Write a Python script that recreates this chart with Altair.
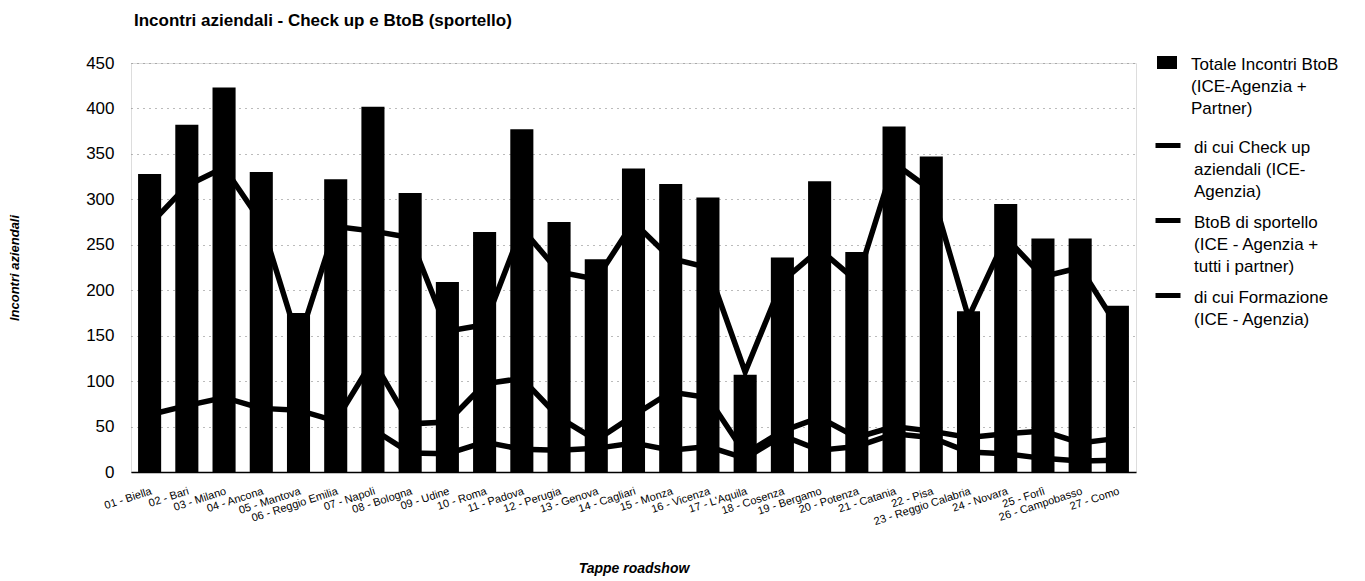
import altair as alt
import pandas as pd

tappe = ["01 - Biella", "02 - Bari", "03 - Milano", "04 - Ancona", "05 - Mantova",
         "06 - Reggio Emilia", "07 - Napoli", "08 - Bologna", "09 - Udine", "10 - Roma",
         "11 - Padova", "12 - Perugia", "13 - Genova", "14 - Cagliari", "15 - Monza",
         "16 - Vicenza", "17 - L'Aquila", "18 - Cosenza", "19 - Bergamo", "20 - Potenza",
         "21 - Catania", "22 - Pisa", "23 - Reggio Calabria", "24 - Novara", "25 - Forlì",
         "26 - Campobasso", "27 - Como"]

totale = [328, 382, 423, 330, 175, 322, 402, 307, 209, 264, 377, 275, 234, 334, 317,
          302, 107, 236, 320, 242, 380, 347, 177, 295, 257, 257, 183]
check_up = [272, 315, 335, 275, 143, 270, 265, 258, 155, 162, 268, 220, 212, 275, 235,
            225, 110, 210, 245, 210, 340, 310, 170, 258, 215, 225, 160]
sportello = [63, 73, 82, 70, 68, 56, 123, 53, 55, 97, 103, 60, 35, 62, 88,
             82, 20, 45, 60, 38, 50, 45, 38, 42, 45, 32, 37]
formazione = [None, None, None, None, None, None, 47, 21, 20, 33, 25, 24, 26, 32, 24,
              28, 15, 40, 24, 28, 42, 38, 22, 20, 15, 12, 13]

n_tot = "Totale Incontri BtoB|(ICE-Agenzia +|Partner)"
n_chk = "di cui Check up|aziendali (ICE-|Agenzia)"
n_spo = "BtoB di sportello|(ICE - Agenzia +|tutti i partner)"
n_for = "di cui Formazione|(ICE - Agenzia)"
line_names = [n_chk, n_spo, n_for]

df_bar = pd.DataFrame({"tappa": tappe, "valore": totale, "serie": n_tot})
rows = []
for name, vals in zip(line_names, [check_up, sportello, formazione]):
    for t, v in zip(tappe, vals):
        rows.append({"tappa": t, "valore": v, "serie": name})
df_line = pd.DataFrame(rows)

FONT = "Liberation Sans, Arial, sans-serif"

x_enc = alt.X("tappa:N", sort=tappe,
              scale=alt.Scale(paddingInner=0.38, paddingOuter=0.19),
              axis=alt.Axis(title="Tappe roadshow", labelAngle=342, labelAlign="right",
                            labelBaseline="top", labelFontSize=11, labelPadding=13,
                            labelFont=FONT, labelColor="black", ticks=False,
                            domainColor="black", domainWidth=1.5,
                            titleFont=FONT, titleFontSize=14, titleFontStyle="italic",
                            titleFontWeight="bold", titleColor="black", titlePadding=35,
                            labelOverlap=False))
y_enc = alt.Y("valore:Q",
              scale=alt.Scale(domain=[0, 450]),
              axis=alt.Axis(title="Incontri aziendali", values=list(range(0, 451, 50)),
                            labelFontSize=17, labelFont=FONT, labelColor="black",
                            labelPadding=17, ticks=False, domain=False,
                            grid=True, gridColor="#777", gridDash=[1, 5], gridWidth=1,
                            titleFont=FONT, titleFontSize=13, titleFontStyle="italic",
                            titleFontWeight="bold", titleColor="black", titlePadding=64))

bars = alt.Chart(df_bar).mark_bar(strokeWidth=0).encode(
    x=x_enc, y=y_enc,
    fill=alt.Fill("serie:N", scale=alt.Scale(domain=[n_tot], range=["black"]),
                  legend=alt.Legend(title=None, orient="none", legendX=1025, legendY=-17,
                                    symbolType="M-1,-0.1H1V1.2H-1Z", symbolSize=400,
                                    labelExpr="split(datum.label, '|')",
                                    labelBaseline="top", labelFontSize=17, labelFont=FONT,
                                    labelColor="black", labelOffset=13, labelLimit=300,
                                    padding=0))
)

lines = alt.Chart(df_line).mark_line(strokeWidth=5.5, strokeJoin="miter").encode(
    x=x_enc, y=y_enc,
    stroke=alt.Stroke("serie:N", sort=line_names,
                      scale=alt.Scale(domain=line_names, range=["black", "black", "black"]),
                      legend=alt.Legend(title=None, orient="none", legendX=1022, legendY=62,
                                        symbolType="M-1,0.44H1", symbolSize=625,
                                        symbolStrokeWidth=5,
                                        labelExpr="split(datum.label, '|')",
                                        labelBaseline="top", labelFontSize=17,
                                        labelFont=FONT, labelColor="black",
                                        labelOffset=11, labelLimit=300, rowPadding=0,
                                        padding=0))
)

chart = alt.layer(bars, lines).properties(
    width=1005, height=409,
    padding={"left": 0, "top": 4, "right": 0, "bottom": 0},
    title=alt.TitleParams("Incontri aziendali - Check up e BtoB (sportello)",
                          anchor="start", frame="group", dx=3, offset=16,
                          font="Liberation Sans, Arial, sans-serif",
                          fontSize=17, fontWeight="bold", color="black")
).configure_view(stroke=None).configure(
    style={"guide-label": {"lineHeight": 22}}
)

chart.save("out.html", embed_options={"renderer": "svg", "actions": False})
